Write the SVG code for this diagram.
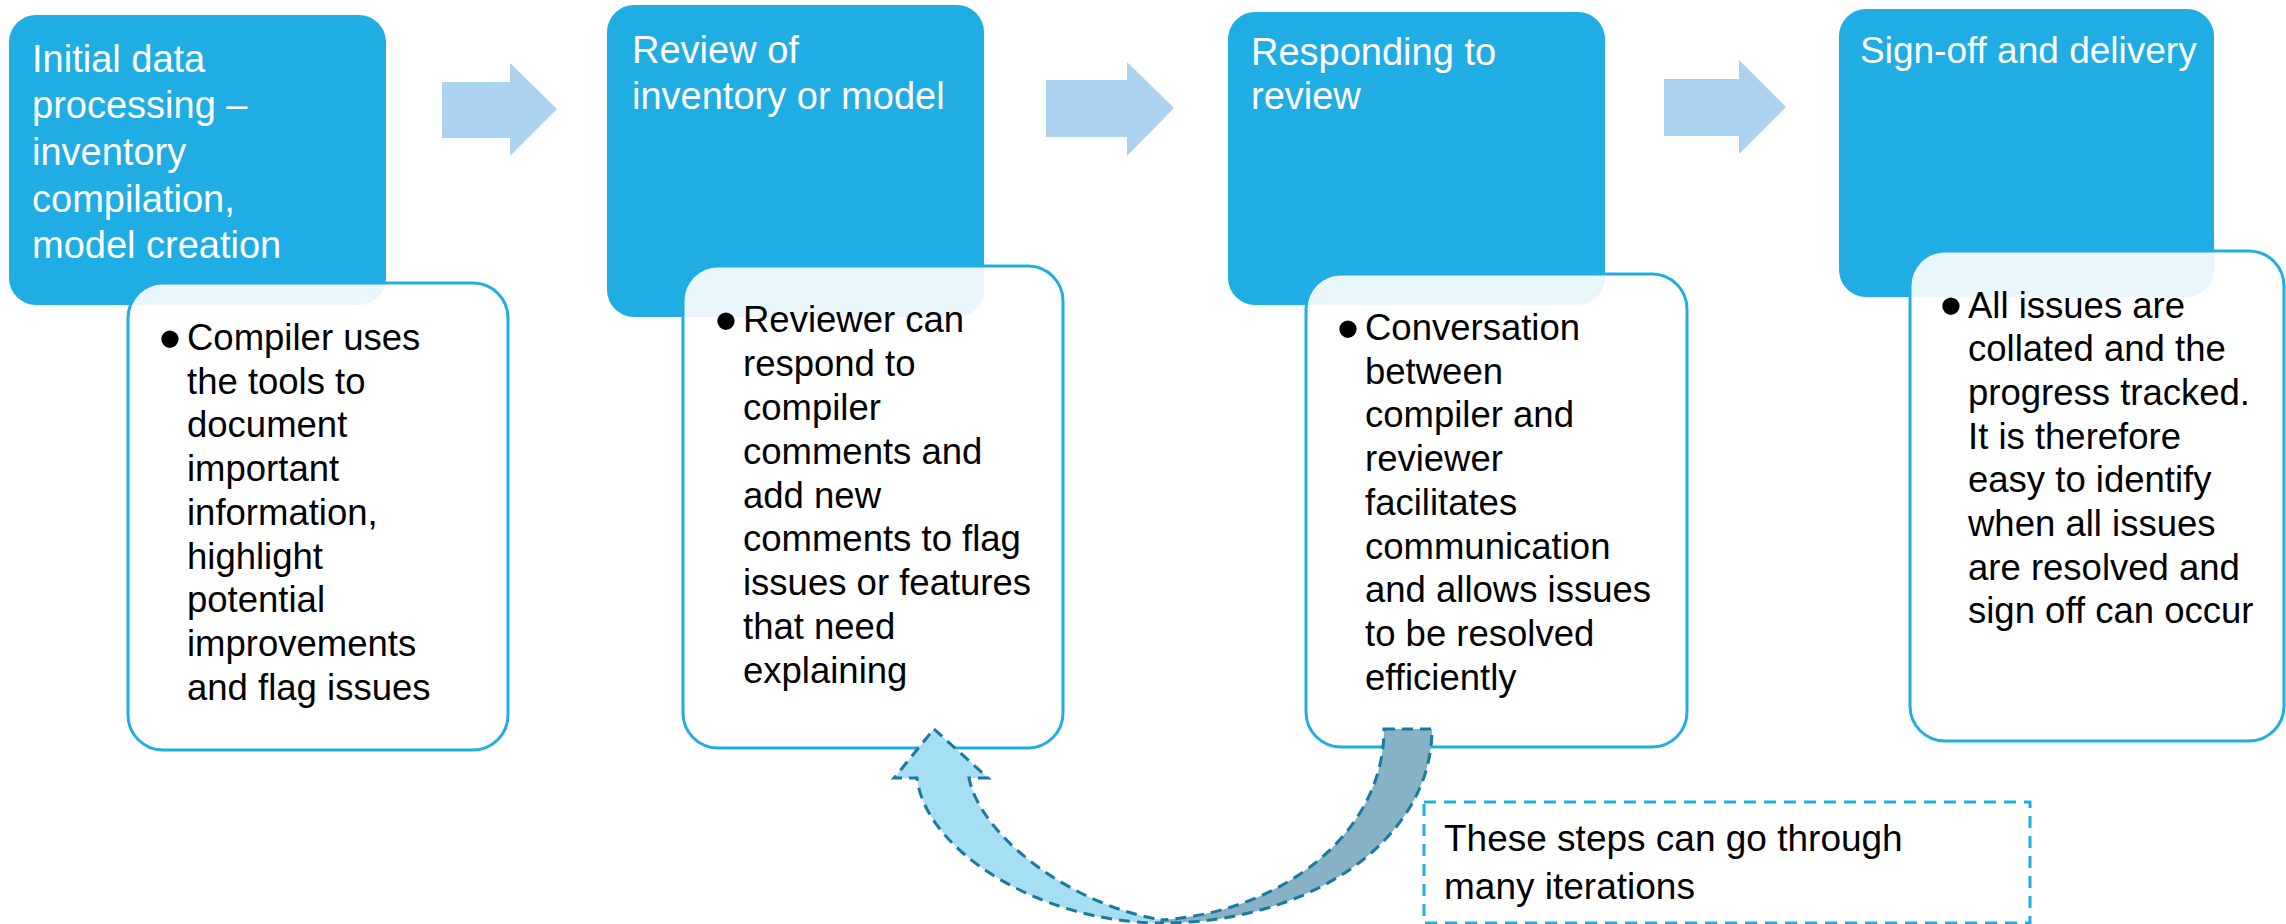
<svg xmlns="http://www.w3.org/2000/svg" width="2286" height="924" viewBox="0 0 2286 924">
  <style>
    .stage { fill: #1FADE4; }
    .detail { fill: #FFFFFF; fill-opacity: 0.9; stroke: #1FADE4; stroke-width: 3; }
    .head { font-family: "Liberation Sans", Arial, sans-serif; font-size: 38px; fill: #FFFFFF; }
    .body { font-family: "Liberation Sans", Arial, sans-serif; font-size: 36.5px; fill: #000000; }
    .dot { font-family: "Liberation Sans", Arial, sans-serif; font-size: 64px; fill: #000000; text-anchor: middle; }
    .step { fill: #ABD2EE; }
    .loop-front { fill: #A6DEF4; stroke: #1A79A0; stroke-width: 3; stroke-dasharray: 11 7; stroke-linejoin: miter; }
    .loop-back { fill: #87B2C6; stroke: #1A79A0; stroke-width: 3; stroke-dasharray: 11 7; stroke-linejoin: miter; }
    .note { fill: #FFFFFF; stroke: #1FADE4; stroke-width: 3; stroke-dasharray: 12 8; }
    .note-text { font-family: "Liberation Sans", Arial, sans-serif; font-size: 37px; fill: #000000; }
  </style>

  <!-- step arrows and the review loop -->
  <g id="connectors">
    <polygon class="step" points="442,82 510,82 510,63 557,109 510,156 510,138 442,138"/>
    <polygon class="step" points="1046,80 1127,80 1127,62 1174,108 1127,156 1127,137 1046,137"/>
    <polygon class="step" points="1664,79 1739,79 1739,60 1786,107 1739,154 1739,136 1664,136"/>
  </g>

  <!-- stage 1 -->
  <g id="stage-initial">
    <rect class="stage" x="9" y="15" width="377" height="290" rx="27"/>
    <text class="head">
      <tspan x="32" y="72">Initial data</tspan>
      <tspan x="32" y="118">processing –</tspan>
      <tspan x="32" y="165">inventory</tspan>
      <tspan x="32" y="212">compilation,</tspan>
      <tspan x="32" y="258">model creation</tspan>
    </text>
    <rect class="detail" x="128" y="283" width="380" height="467" rx="35"/>
    <text class="dot" x="170" y="361">•</text>
    <text class="body">
      <tspan x="187" y="350">Compiler uses</tspan>
      <tspan x="187" y="394">the tools to</tspan>
      <tspan x="187" y="437">document</tspan>
      <tspan x="187" y="481">important</tspan>
      <tspan x="187" y="525">information,</tspan>
      <tspan x="187" y="569">highlight</tspan>
      <tspan x="187" y="612">potential</tspan>
      <tspan x="187" y="656">improvements</tspan>
      <tspan x="187" y="700">and flag issues</tspan>
    </text>
  </g>

  <!-- stage 2 -->
  <g id="stage-review">
    <rect class="stage" x="607" y="5" width="377" height="312" rx="27"/>
    <text class="head">
      <tspan x="632" y="63">Review of</tspan>
      <tspan x="632" y="109">inventory or model</tspan>
    </text>
    <rect class="detail" x="683" y="266" width="380" height="482" rx="35"/>
    <text class="dot" x="726" y="343">•</text>
    <text class="body">
      <tspan x="743" y="332">Reviewer can</tspan>
      <tspan x="743" y="376">respond to</tspan>
      <tspan x="743" y="420">compiler</tspan>
      <tspan x="743" y="464">comments and</tspan>
      <tspan x="743" y="508">add new</tspan>
      <tspan x="743" y="551">comments to flag</tspan>
      <tspan x="743" y="595">issues or features</tspan>
      <tspan x="743" y="639">that need</tspan>
      <tspan x="743" y="683">explaining</tspan>
    </text>
  </g>

  <!-- stage 3 -->
  <g id="stage-respond">
    <rect class="stage" x="1228" y="12" width="377" height="293" rx="27"/>
    <text class="head">
      <tspan x="1251" y="65">Responding to</tspan>
      <tspan x="1251" y="109">review</tspan>
    </text>
    <rect class="detail" x="1306" y="274" width="381" height="473" rx="35"/>
    <text class="dot" x="1348" y="351">•</text>
    <text class="body">
      <tspan x="1365" y="340">Conversation</tspan>
      <tspan x="1365" y="384">between</tspan>
      <tspan x="1365" y="427">compiler and</tspan>
      <tspan x="1365" y="471">reviewer</tspan>
      <tspan x="1365" y="515">facilitates</tspan>
      <tspan x="1365" y="559">communication</tspan>
      <tspan x="1365" y="602">and allows issues</tspan>
      <tspan x="1365" y="646">to be resolved</tspan>
      <tspan x="1365" y="690">efficiently</tspan>
    </text>
  </g>

  <!-- stage 4 -->
  <g id="stage-signoff">
    <rect class="stage" x="1839" y="9" width="375" height="288" rx="27"/>
    <text class="head" style="font-size:37px">
      <tspan x="1860" y="63">Sign-off and delivery</tspan>
    </text>
    <rect class="detail" x="1910" y="251" width="374" height="490" rx="35"/>
    <text class="dot" x="1951" y="328">•</text>
    <text class="body">
      <tspan x="1968" y="318">All issues are</tspan>
      <tspan x="1968" y="361">collated and the</tspan>
      <tspan x="1968" y="405">progress tracked.</tspan>
      <tspan x="1968" y="449">It is therefore</tspan>
      <tspan x="1968" y="492">easy to identify</tspan>
      <tspan x="1968" y="536">when all issues</tspan>
      <tspan x="1968" y="580">are resolved and</tspan>
      <tspan x="1968" y="623">sign off can occur</tspan>
    </text>
  </g>

  <!-- curved loop arrow from stage 3 back to stage 2 -->
  <g id="loop-arrow">
    <path class="loop-back" d="M1384,729 L1432,729 C1432,840 1310,923 1162,923 L1162,920 C1280,912 1384,835 1384,729 Z"/>
    <path class="loop-front" d="M934,729 L988,778 L969,778 C980,835 1070,905 1162,920 L1162,923 C1040,923 925,850 917,778 L894,778 Z"/>
  </g>

  <!-- annotation -->
  <g id="note">
    <rect class="note" x="1424" y="802" width="606" height="121"/>
    <text class="note-text">
      <tspan x="1444" y="851">These steps can go through</tspan>
      <tspan x="1444" y="899">many iterations</tspan>
    </text>
  </g>
</svg>
